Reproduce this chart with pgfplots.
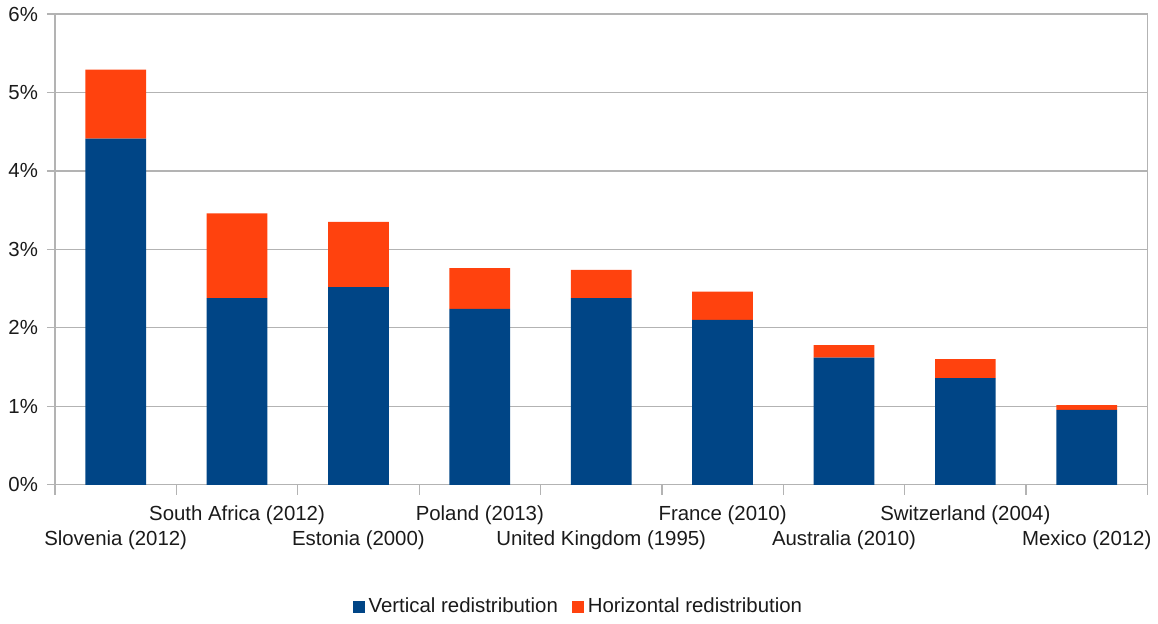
\documentclass[border=0pt]{standalone}
\usepackage{fontspec}
\setmainfont{Liberation Sans}
\usepackage{pgfplots}
\pgfplotsset{compat=1.18}
\usetikzlibrary{calc}
\definecolor{vert}{HTML}{004586}
\definecolor{horz}{HTML}{FF420E}
\definecolor{gridc}{HTML}{B3B3B3}
\definecolor{txt}{HTML}{1A1A1A}

\begin{document}
\begin{tikzpicture}
\begin{axis}[name=ax, scale only axis, width=546.5pt, height=235.5pt,
  ybar stacked, bar width=0.5,
  xmin=-0.5, xmax=8.5, ymin=0, ymax=6,
  xtick={0,...,8},
  xticklabels={{\strut\\\strut Slovenia (2012)}, {\strut South Africa (2012)}, {\strut\\\strut Estonia (2000)},
    {\strut Poland (2013)}, {\strut\\\strut United Kingdom (1995)}, {\strut France (2010)},
    {\strut\\\strut Australia (2010)}, {\strut Switzerland (2004)}, {\strut\\\strut Mexico (2012)}},
  minor xtick={-0.5,0.5,...,8.5},
  major x tick style={draw=none},
  xtick pos=lower, ytick pos=left,
  ytick={0,...,6},
  yticklabels={0\%,1\%,2\%,3\%,4\%,5\%,6\%},
  tick align=outside, major tick length=4pt, minor tick length=5pt,
  tick style={gridc, line width=0.6pt},
  axis line style={gridc, line width=0.6pt},
  ymajorgrids, grid style={gridc, line width=0.6pt},
  font=\fontsize{10.2}{13}\selectfont,
  xticklabel style={align=center, text=txt, font=\fontsize{10.2}{13}\selectfont, yshift=-1pt},
  yticklabel style={text=txt, font=\fontsize{10.2}{13}\selectfont, xshift=-1pt},
  legend style={draw=none, at={(axis description cs:0.48,0)}, anchor=center, yshift=-61pt,
    legend columns=2, font=\fontsize{10.2}{13}\selectfont, text=txt,
    /tikz/every even column/.append style={column sep=5pt}},
  legend image code/.code={\fill[#1] (0pt,-3pt) rectangle (6pt,3pt);},
]
\addplot[fill=vert, draw=none] coordinates {(0,4.41) (1,2.38) (2,2.52) (3,2.24) (4,2.38) (5,2.10) (6,1.62) (7,1.36) (8,0.955)};
\addplot[fill=horz, draw=none] coordinates {(0,0.88) (1,1.08) (2,0.83) (3,0.52) (4,0.36) (5,0.36) (6,0.16) (7,0.24) (8,0.06)};
\legend{Vertical redistribution, Horizontal redistribution}
\end{axis}
\path[use as bounding box] ($(ax.south west)+(-27.5pt,-68pt)$) rectangle ($(ax.north east)+(5pt,7pt)$);
\end{tikzpicture}
\end{document}
